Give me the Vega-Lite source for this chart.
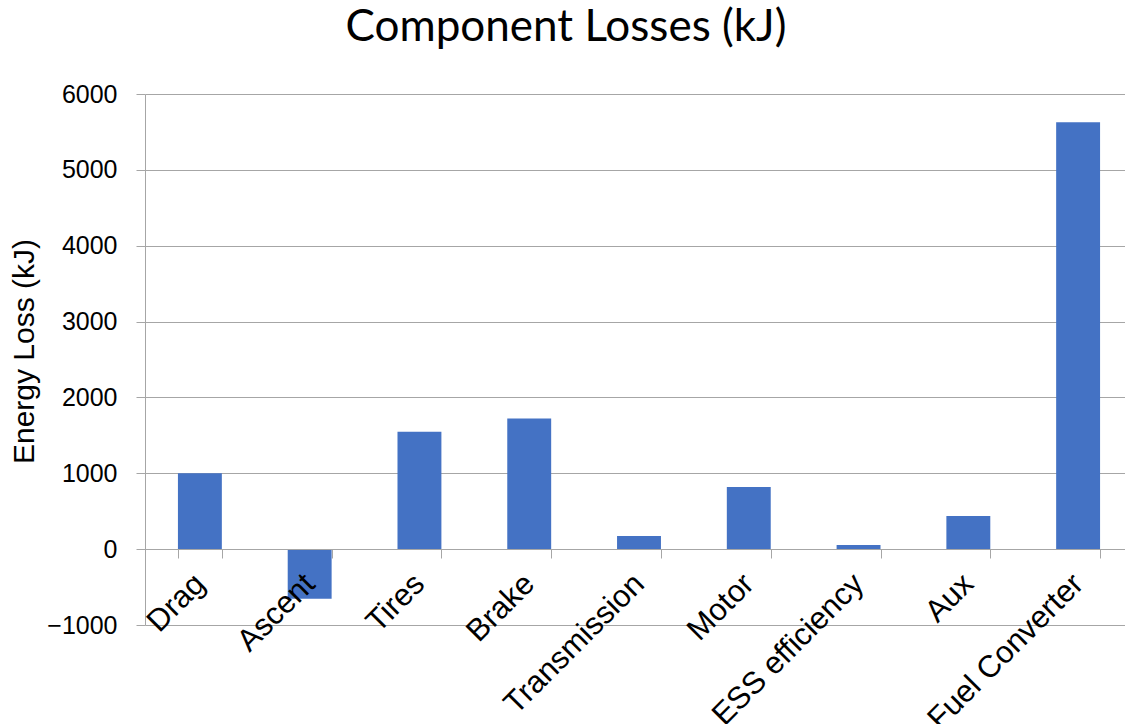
{
  "$schema": "https://vega.github.io/schema/vega-lite/v6.json",
  "width": 988,
  "height": 531,
  "autosize": {"type": "none"},
  "padding": {"left": 145, "top": 94, "right": 0, "bottom": 100},
  "background": "white",
  "title": {
    "text": "Component Losses (kJ)",
    "anchor": "middle",
    "frame": "group",
    "dx": -73,
    "offset": -3,
    "baseline": "alphabetic",
    "font": "Lato",
    "fontSize": 44,
    "fontWeight": "normal",
    "color": "#000000"
  },
  "config": {
    "view": {"stroke": null},
    "axis": {
      "labelFont": "Liberation Sans",
      "titleFont": "Liberation Sans",
      "labelColor": "#000000",
      "titleColor": "#000000",
      "domainColor": "#a6a6a6",
      "tickColor": "#a6a6a6",
      "gridColor": "#a6a6a6"
    }
  },
  "data": {
    "values": [
      {"component": "Drag", "loss": 1000},
      {"component": "Ascent", "loss": -655},
      {"component": "Tires", "loss": 1548},
      {"component": "Brake", "loss": 1722},
      {"component": "Transmission", "loss": 173},
      {"component": "Motor", "loss": 820},
      {"component": "ESS efficiency", "loss": 55},
      {"component": "Aux", "loss": 438},
      {"component": "Fuel Converter", "loss": 5628}
    ]
  },
  "mark": {"type": "bar", "color": "#4472C4"},
  "encoding": {
    "x": {
      "field": "component",
      "type": "nominal",
      "sort": null,
      "scale": {"paddingInner": 0.6, "paddingOuter": 0.3},
      "axis": {
        "title": null,
        "offset": -76,
        "zindex": 1,
        "tickBand": "extent",
        "tickSize": 9,
        "labelAngle": -45,
        "labelAlign": "right",
        "labelBaseline": "middle",
        "labelFontSize": 31,
        "labelPadding": 21,
        "labelLimit": 0,
        "labelOverlap": false,
        "labelBound": false,
        "grid": false
      }
    },
    "y": {
      "field": "loss",
      "type": "quantitative",
      "scale": {"domain": [-1000, 6000], "nice": false, "zero": false},
      "axis": {
        "title": "Energy Loss (kJ)",
        "titleFontSize": 30,
        "titleFontWeight": "normal",
        "titlePadding": 7,
        "titleY": 257,
        "values": [-1000, 0, 1000, 2000, 3000, 4000, 5000, 6000],
        "format": "d",
        "labelFontSize": 25,
        "labelPadding": 19,
        "tickSize": 9,
        "grid": true
      }
    }
  }
}
